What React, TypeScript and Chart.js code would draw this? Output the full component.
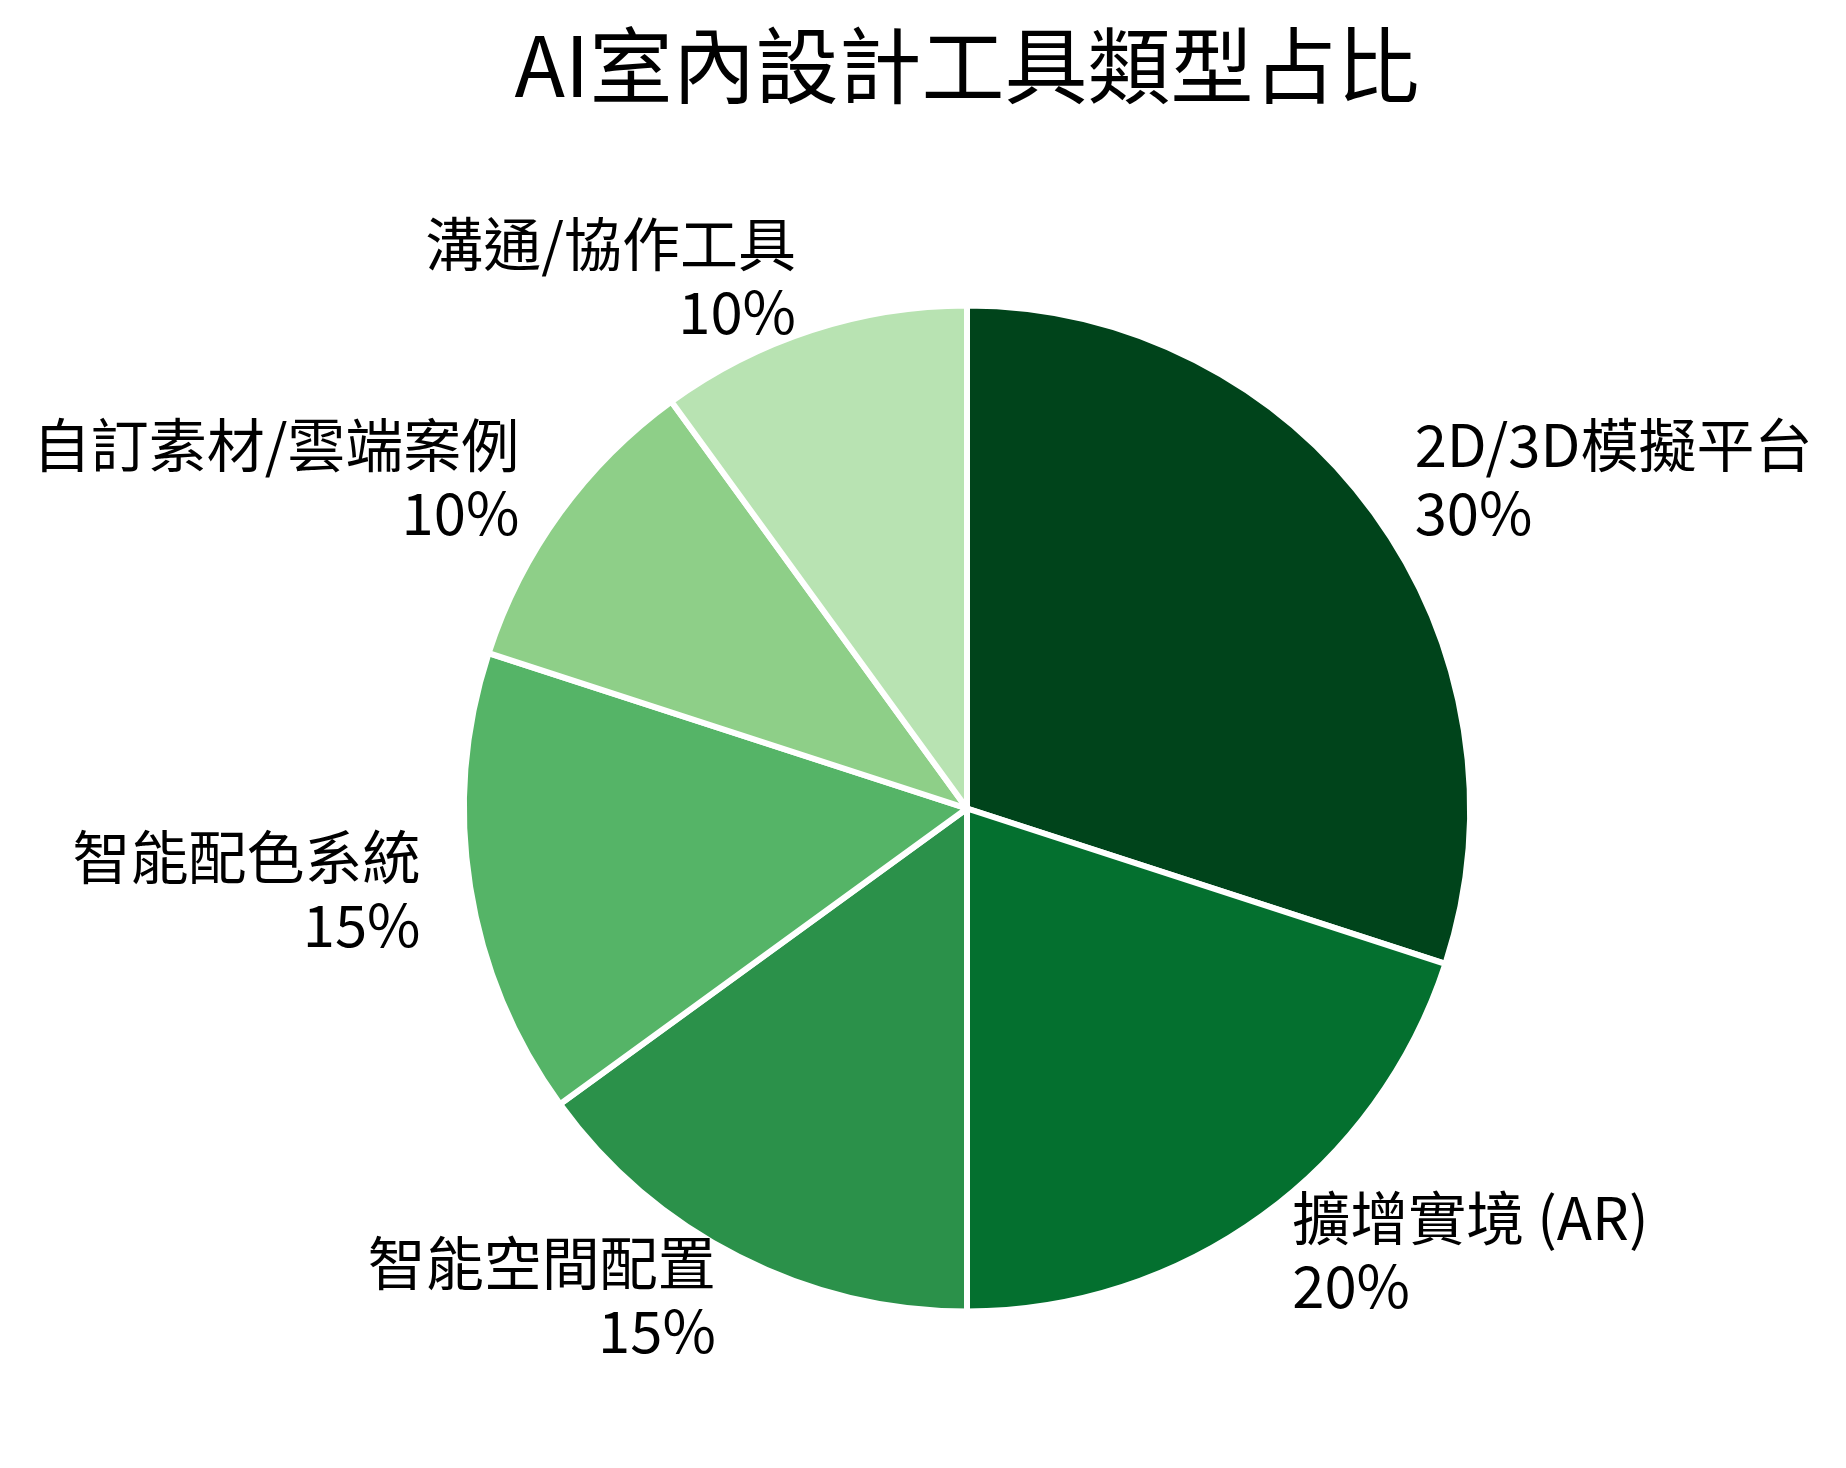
import React, { useEffect, useRef } from "react";
import { Chart, registerables } from "chart.js";

Chart.register(...registerables);

const titleText = "AI室內設計工具類型占比";
const categories = [
  "2D/3D模擬平台",
  "擴增實境 (AR)",
  "智能空間配置",
  "智能配色系統",
  "自訂素材/雲端案例",
  "溝通/協作工具",
];
const shares = [30, 20, 15, 15, 10, 10];
const sliceColors = ["#00441b", "#04702f", "#2b914a", "#55b467", "#8ecf88", "#b8e3b2"];

const FONT = '"Noto Sans CJK TC", "Noto Sans", sans-serif';

// outside labels at 1.1 x radius, left/right aligned by side
const outsideLabels = {
  id: "outsideLabels",
  afterDraw(chart: Chart) {
    const { ctx } = chart;
    const meta = chart.getDatasetMeta(0);
    const total = shares.reduce((a, b) => a + b, 0);
    ctx.save();
    ctx.fillStyle = "#000";
    ctx.font = `58px ${FONT}`;
    ctx.textBaseline = "alphabetic";
    meta.data.forEach((arc: any, i: number) => {
      const { x, y, startAngle, endAngle, outerRadius } = arc.getProps(
        ["x", "y", "startAngle", "endAngle", "outerRadius"],
        true
      );
      const mid = (startAngle + endAngle) / 2;
      const r = outerRadius * 1.1;
      const ax = x + Math.cos(mid) * r;
      const ay = y + Math.sin(mid) * r;
      ctx.textAlign = Math.cos(mid) >= 0 ? "left" : "right";
      const pct = `${Math.round((shares[i] / total) * 100)}%`;
      ctx.fillText(categories[i], ax, ay - 16);
      ctx.fillText(pct, ax, ay - 16 + 68);
    });

    // title
    ctx.textAlign = "center";
    ctx.font = `83px ${FONT}`;
    ctx.fillText(titleText, meta.data[0] ? (meta.data[0] as any).x : chart.width / 2, 97);
    ctx.restore();
  },
};

export default function App() {
  const canvasRef = useRef<HTMLCanvasElement | null>(null);

  useEffect(() => {
    if (!canvasRef.current) return;
    const chart = new Chart(canvasRef.current, {
      type: "pie",
      data: {
        labels: categories,
        datasets: [
          {
            data: shares,
            backgroundColor: sliceColors,
            borderColor: "#ffffff",
            borderWidth: 6,
          },
        ],
      },
      options: {
        animation: false,
        responsive: false,
        radius: 503,
        layout: { padding: { left: 400, right: 312, top: 250, bottom: 101 } },
        plugins: {
          legend: { display: false },
          tooltip: { enabled: false },
          title: { display: false },
        },
      },
      plugins: [outsideLabels],
    });
    return () => chart.destroy();
  }, []);

  return (
    <div style={{ position: "fixed", left: 0, top: 0, width: 1846, height: 1468, background: "#fff" }}>
      <canvas ref={canvasRef} width={1846} height={1468} style={{ width: 1846, height: 1468 }} />
    </div>
  );
}
